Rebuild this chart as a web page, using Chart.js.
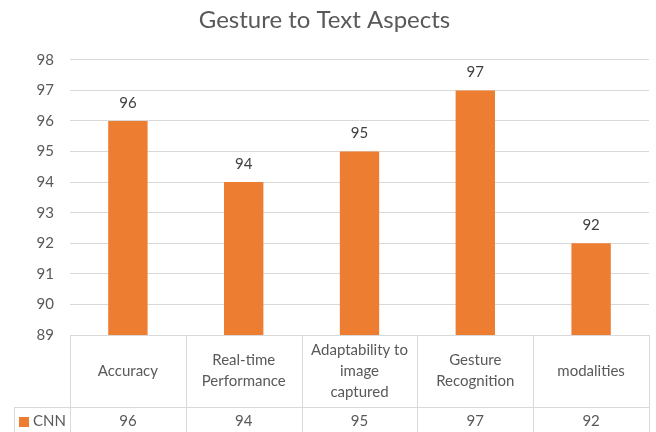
<!DOCTYPE html>
<html>
<head>
<meta charset="utf-8">
<script src="https://cdn.jsdelivr.net/npm/chart.js@4/dist/chart.umd.min.js"></script>
<style>
  html, body { margin: 0; padding: 0; background: #fff; }
  #wrap { width: 656px; height: 432px; }
</style>
</head>
<body>
<div id="wrap"><canvas id="chart" width="656" height="432"></canvas></div>
<script>
// data
const categories = [
    ['Accuracy'],
    ['Real-time', 'Performance'],
    ['Adaptability to', 'image', 'captured'],
    ['Gesture', 'Recognition'],
    ['modalities']
];
const seriesName = 'CNN';
const cnnValues = [96, 94, 95, 97, 92];
const yMin = 89;
const yMax = 98;

const FONT = 'Lato, "Open Sans", sans-serif';
const gridColor = '#d9d9d9';
const textColor = '#595959';
const barColor = '#ED7D31';

// value labels above each bar
const valueLabels = {
    id: 'valueLabels',
    afterDatasetsDraw(chart) {
        const ctx = chart.ctx;
        const meta = chart.getDatasetMeta(0);
        ctx.save();
        ctx.font = '15px ' + FONT;
        ctx.fillStyle = '#404040';
        ctx.textAlign = 'center';
        ctx.textBaseline = 'middle';
        meta.data.forEach((bar, i) => {
            ctx.fillText(String(cnnValues[i]), bar.x, bar.y - 18);
        });
        ctx.restore();
    }
};

// data table under the plot (categories + values + legend key)
const dataTable = {
    id: 'dataTable',
    afterDraw(chart) {
        const ctx = chart.ctx;
        const area = chart.chartArea;
        const xs = chart.scales.x;
        const top = area.bottom;
        const rowY = top + 72;
        const bottom = chart.height + 2;
        const n = categories.length;
        const step = (area.right - area.left) / n;

        ctx.save();
        ctx.strokeStyle = gridColor;
        ctx.lineWidth = 1;
        ctx.beginPath();
        // top line of table
        ctx.moveTo(area.left, top + 0.5);
        ctx.lineTo(area.right, top + 0.5);
        // row divider (reaches into legend cell)
        ctx.moveTo(14, Math.round(rowY) + 0.5);
        ctx.lineTo(area.right, Math.round(rowY) + 0.5);
        // column lines
        for (let i = 0; i <= n; i++) {
            const x = Math.round(area.left + i * step) + 0.5;
            ctx.moveTo(x, top);
            ctx.lineTo(x, bottom);
        }
        // legend cell left border
        ctx.moveTo(14.5, Math.round(rowY));
        ctx.lineTo(14.5, bottom);
        ctx.stroke();

        ctx.font = '15px ' + FONT;
        ctx.fillStyle = textColor;
        ctx.textAlign = 'center';
        ctx.textBaseline = 'middle';
        const lineH = 21;
        categories.forEach((lines, i) => {
            const cx = xs.getPixelForValue(i);
            const cy = (top + rowY) / 2;
            const y0 = cy - (lines.length - 1) * lineH / 2;
            lines.forEach((t, j) => ctx.fillText(t, cx, y0 + j * lineH));
            ctx.fillText(String(cnnValues[i]), cx, rowY + 14);
        });

        // legend key
        ctx.fillStyle = barColor;
        ctx.fillRect(19, rowY + 10, 10, 10);
        ctx.fillStyle = textColor;
        ctx.textAlign = 'left';
        ctx.fillText(seriesName, 33, rowY + 14);
        ctx.restore();
    }
};

new Chart(document.getElementById('chart'), {
    type: 'bar',
    data: {
        labels: categories,
        datasets: [{
            label: seriesName,
            data: cnnValues,
            backgroundColor: barColor,
            borderWidth: 0,
            barPercentage: 0.34,
            categoryPercentage: 1
        }]
    },
    options: {
        responsive: false,
        animation: false,
        layout: {
            padding: { left: 0, right: 7, top: 0, bottom: 97 }
        },
        plugins: {
            legend: { display: false },
            tooltip: { enabled: false },
            title: {
                display: true,
                text: 'Gesture to Text Aspects',
                color: textColor,
                font: { family: FONT, size: 24, weight: 'normal' },
                padding: { top: 6, bottom: 25 }
            }
        },
        scales: {
            x: {
                display: false
            },
            y: {
                min: yMin,
                max: yMax,
                ticks: {
                    stepSize: 1,
                    color: textColor,
                    padding: 16,
                    font: { family: FONT, size: 15 }
                },
                grid: {
                    color: gridColor,
                    drawTicks: false
                },
                border: { display: false },
                afterFit(scale) {
                    scale.width = 70;
                }
            }
        }
    },
    plugins: [valueLabels, dataTable]
});
</script>
</body>
</html>
